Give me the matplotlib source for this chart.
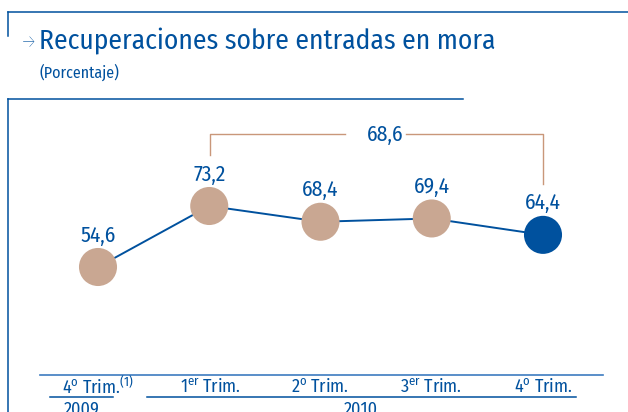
import matplotlib
matplotlib.use("Agg")
import matplotlib.pyplot as plt

FONT = "Fira Sans Condensed"
plt.rcParams['font.family'] = [FONT, 'DejaVu Sans']
plt.rcParams['mathtext.fontset'] = 'custom'
plt.rcParams['mathtext.rm'] = FONT
plt.rcParams['mathtext.it'] = FONT

categories = ["4$^{\\mathrm{o}}$ Trim.$^{\\mathrm{(1)}}$", "1$^{\\mathrm{er}}$ Trim.",
              "2$^{\\mathrm{o}}$ Trim.", "3$^{\\mathrm{er}}$ Trim.", "4$^{\\mathrm{o}}$ Trim."]
values = [54.6, 73.2, 68.4, 69.4, 64.4]
value_labels = ["54,6", "73,2", "68,4", "69,4", "64,4"]
years = ["2009", "2010"]
year_average = "68,6"

BLUE = "#00519E"
TAN = "#C9A792"
BRACKET = "#C9977A"
W, H = 628, 412

fig = plt.figure(figsize=(W / 100, H / 100), dpi=100)
deco = fig.add_axes([0, 0, 1, 1])
deco.set_xlim(0, W)
deco.set_ylim(H, 0)
deco.axis("off")

ax = fig.add_axes([0, 0, 1, 1], facecolor="none")
px_per_idx = (543 - 98) / 4
ax.set_xlim(-98 / px_per_idx, 4 + (W - 543) / px_per_idx)
px_per_val = (267 - 206) / (73.2 - 54.6)
ax.set_ylim(73.2 - (H - 206) / px_per_val, 73.2 + 206 / px_per_val)
ax.axis("off")

xs = list(range(len(values)))
ax.plot(xs, values, color=BLUE, lw=1.4, zorder=1)
colors = [TAN] * (len(values) - 1) + [BLUE]
ax.scatter(xs, values, s=38 ** 2 * 0.52, c=colors, zorder=2, linewidths=0)
for x, v, lab in zip(xs, values, value_labels):
    ax.text(x, v + 21 / px_per_val, lab, ha="center", va="bottom",
            fontsize=15.5, color=BLUE)

deco.plot([8, W], [12, 12], color=BLUE, lw=1.1)
deco.plot([8, 8], [12, 36], color=BLUE, lw=1.1)
deco.plot([8, 463], [99, 99], color=BLUE, lw=1.1)
deco.plot([8, 8], [99, H], color=BLUE, lw=1.1)

deco.text(20, 43, "\u2192", fontsize=14, color=BLUE, ha="left", va="center",
          fontweight="light")
deco.text(39, 41, "Recuperaciones sobre entradas en mora", fontsize=19.8,
          color=BLUE, ha="left", va="center")
deco.text(39, 72, "(Porcentaje)", fontsize=11.5, color=BLUE, ha="left", va="center")

bx0, bx1 = 210, 543
deco.plot([bx0, bx0, 345], [155, 134, 134], color=BRACKET, lw=1.0)
deco.plot([406, bx1, bx1], [134, 134, 184], color=BRACKET, lw=1.0)
deco.text((bx0 + bx1) / 2 + 9, 135, year_average, fontsize=15.5, color=BLUE,
          ha="center", va="center")

deco.plot([40, 603], [375, 375], color="#3D7CC0", lw=1.2)
cat_px = [98, 210, 320, 431, 543]
for cx, cat in zip(cat_px, categories):
    deco.text(cx, 387, cat, fontsize=13, color=BLUE, ha="center", va="center")

deco.plot([50, 113], [397, 397], color=BLUE, lw=1.1)
deco.plot([147, 576], [397, 397], color=BLUE, lw=1.1)
deco.text(82, 401, years[0], fontsize=13, color=BLUE, ha="center", va="top")
deco.text(361, 401, years[1], fontsize=13, color=BLUE, ha="center", va="top")

fig.savefig("out.png", dpi=100)
